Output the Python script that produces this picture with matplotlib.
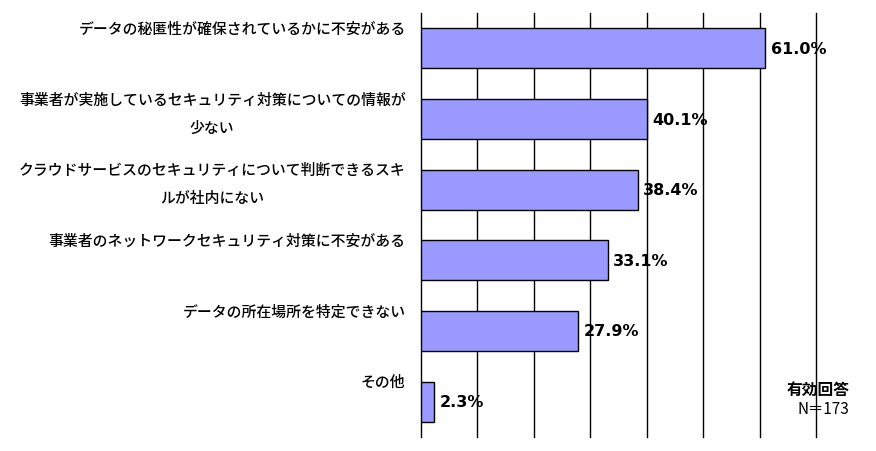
import matplotlib.pyplot as plt

plt.rcParams['font.family'] = ['Noto Sans CJK JP', 'DejaVu Sans']

# Survey answers (percent of valid responses)
categories = [
    "データの秘匿性が確保されているかに不安がある",
    "事業者が実施しているセキュリティ対策についての情報が\n少ない",
    "クラウドサービスのセキュリティについて判断できるスキ\nルが社内にない",
    "事業者のネットワークセキュリティ対策に不安がある",
    "データの所在場所を特定できない",
    "その他",
]
values = [61.0, 40.1, 38.4, 33.1, 27.9, 2.3]
n_label = "N＝173"

bar_h = 0.57

fig = plt.figure(figsize=(8.76, 4.52), dpi=100)
ax = fig.add_axes([0.4805, 0.031, 0.451, 0.938])

pos = list(range(len(categories)))
ax.barh(pos, values, height=bar_h, color='#9999FF', edgecolor='black',
        linewidth=1, zorder=3)

ax.set_xlim(0, 70)
ax.set_ylim(len(categories) - 0.5, -0.5)
ax.set_xticks(range(0, 71, 10))
ax.grid(axis='x', color='black', linewidth=1, zorder=0)
for gl in ax.get_xgridlines():
    gl.set_clip_on(False)
ax.tick_params(left=False, bottom=False, labelleft=False, labelbottom=False)
for s in ax.spines.values():
    s.set_visible(False)

for i, (cat, v) in enumerate(zip(categories, values)):
    # category label sits just above the bar's top edge, right aligned
    ax.annotate(cat, xy=(0, i - bar_h / 2), xytext=(-11, 6),
                textcoords='offset points', ha='right', va='top',
                multialignment='center', fontsize=10.7, linespacing=1.85,
                fontweight='medium')
    # value label
    ax.annotate(f"{v:.1f}%", xy=(v, i), xytext=(4, 0),
                textcoords='offset points', ha='left', va='center',
                fontsize=11.5, fontweight='bold', family='DejaVu Sans')

fig.text(0.970, 0.137, "有効回答", ha='right', va='center',
         fontsize=11.3, fontweight='bold')
fig.text(0.970, 0.093, n_label, ha='right', va='center', fontsize=11)

fig.savefig("out.png", dpi=100)
